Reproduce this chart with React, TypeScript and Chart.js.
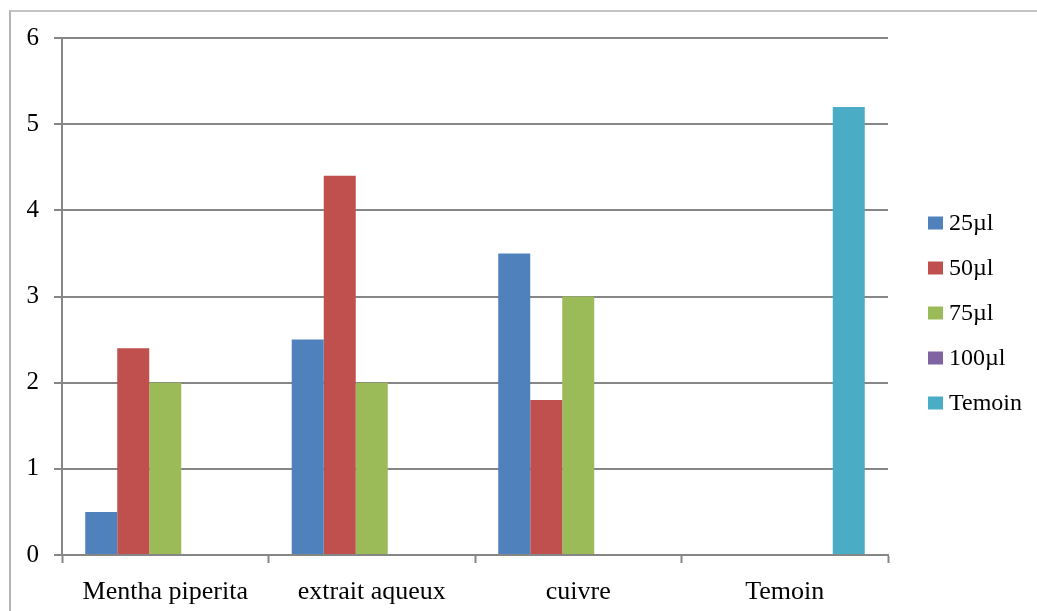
import React, { useEffect, useRef } from "react";
import { Chart, registerables } from "chart.js";

Chart.register(...registerables);

// Groups along the x axis
const categories = ["Mentha piperita", "extrait aqueux", "cuivre", "Temoin"];

// Series (one per dose) and their values per group
const seriesLabels = ["25µl", "50µl", "75µl", "100µl", "Temoin"];
const values25 = [0.5, 2.5, 3.5, null];
const values50 = [2.4, 4.4, 1.8, null];
const values75 = [2.0, 2.0, 3.0, null];
const values100 = [null, null, null, null];
const valuesTemoin = [null, null, null, 5.2];
const seriesColors = ["#4F81BD", "#C0504D", "#9BBB59", "#8064A2", "#4BACC6"];

// Value axis range
const yMin = 0;
const yMax = 6;
const yStep = 1;

const FONT = "'Liberation Serif', 'Times New Roman', serif";

// Vertical legend drawn to the right of the plot area
const sideLegend = {
  id: "sideLegend",
  afterDraw(chart: any) {
    const { ctx } = chart;
    const x = 928;
    const firstY = 223;
    const step = 45;
    ctx.save();
    ctx.font = `24px ${FONT}`;
    ctx.textBaseline = "middle";
    ctx.textAlign = "left";
    chart.data.datasets.forEach((ds: any, i: number) => {
      const cy = firstY + i * step;
      ctx.fillStyle = ds.backgroundColor;
      ctx.fillRect(x, cy - 6.5, 15, 13);
      ctx.fillStyle = "#000";
      ctx.fillText(ds.label, x + 21, cy + 1);
    });
    ctx.restore();
  },
};

export default function App() {
  const canvasRef = useRef<HTMLCanvasElement | null>(null);

  useEffect(() => {
    const canvas = canvasRef.current;
    if (!canvas) return;
    const seriesData = [values25, values50, values75, values100, valuesTemoin];
    const chart = new Chart(canvas, {
      type: "bar",
      data: {
        labels: categories,
        datasets: seriesLabels.map((label, i) => ({
          label,
          data: seriesData[i],
          backgroundColor: seriesColors[i],
          borderWidth: 0,
          categoryPercentage: 0.775,
          barPercentage: 1,
        })),
      },
      options: {
        responsive: false,
        animation: false,
        layout: { padding: { left: 0, top: 38, right: 149, bottom: 0 } },
        plugins: {
          legend: { display: false },
          tooltip: { enabled: false },
          title: { display: false },
        },
        scales: {
          x: {
            offset: true,
            grid: {
              offset: true,
              drawOnChartArea: false,
              drawTicks: true,
              tickLength: 8,
              tickWidth: 2,
              tickColor: "#868686",
            },
            border: { display: true, color: "#868686", width: 2 },
            ticks: {
              color: "#000",
              font: { family: FONT, size: 26 },
              padding: 14,
              maxRotation: 0,
              autoSkip: false,
            },
            afterFit(scale: any) {
              scale.height = 56;
            },
          },
          y: {
            min: yMin,
            max: yMax,
            grid: {
              color: "#868686",
              lineWidth: 2,
              drawTicks: true,
              tickLength: 8,
              tickColor: "#868686",
              tickWidth: 2,
            },
            border: { display: true, color: "#868686", width: 2 },
            ticks: {
              stepSize: yStep,
              color: "#000",
              font: { family: FONT, size: 25 },
              padding: 15,
            },
            afterFit(scale: any) {
              scale.width = 62;
            },
          },
        },
      },
      plugins: [sideLegend],
    });
    return () => chart.destroy();
  }, []);

  return (
    <div
      style={{
        position: "fixed",
        left: 0,
        top: 0,
        width: 1037,
        height: 611,
        overflow: "hidden",
        background: "#fff",
      }}
    >
      <div
        style={{
          position: "absolute",
          left: 9,
          top: 10,
          width: 1100,
          height: 700,
          borderLeft: "2px solid #b4b4b4",
          borderTop: "2px solid #c4c4c4",
        }}
      />
      <canvas
        ref={canvasRef}
        width={1037}
        height={611}
        style={{ position: "absolute", left: 0, top: 0, display: "block" }}
      />
    </div>
  );
}
